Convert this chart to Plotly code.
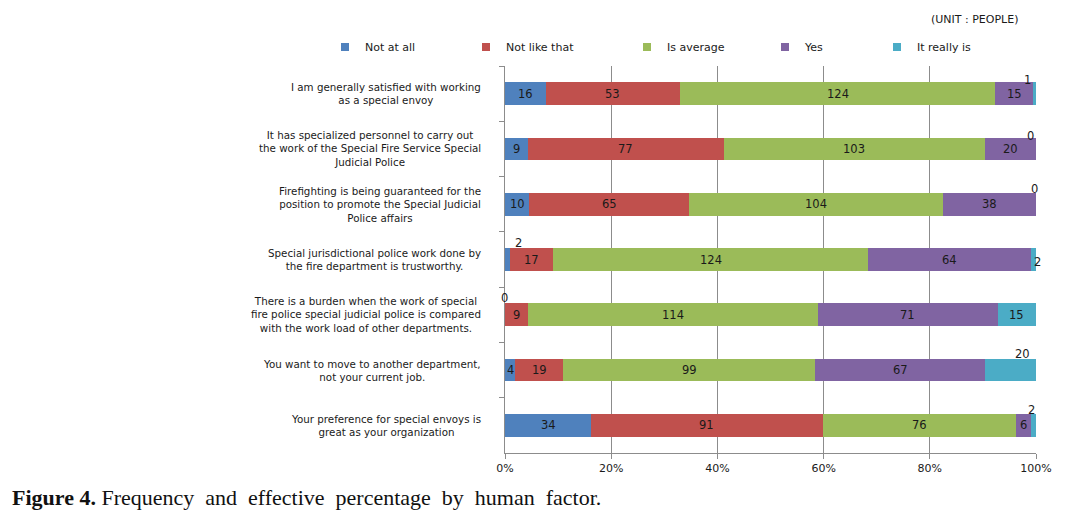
import plotly.graph_objects as go

categories = [
    "I am generally satisfied with working<br>as a special envoy",
    "It has specialized personnel to carry out<br>the work of the Special Fire Service Special<br>Judicial Police",
    "Firefighting is being guaranteed for the<br>position to promote the Special Judicial<br>Police affairs",
    "Special jurisdictional police work done by<br>the fire department is trustworthy.",
    "There is a burden when the work of special<br>fire police special judicial police is compared<br>with the work load of other departments.",
    "You want to move to another department,<br>not your current job.",
    "Your preference for special envoys is<br>great as your organization",
]
series_names = ["Not at all", "Not like that", "Is average", "Yes", "It really is"]
not_at_all = [16, 9, 10, 2, 0, 4, 34]
not_like_that = [53, 77, 65, 17, 9, 19, 91]
is_average = [124, 103, 104, 124, 114, 99, 76]
yes = [15, 20, 38, 64, 71, 67, 6]
really_is = [1, 0, 0, 2, 15, 20, 2]
x_ticks = [0, 20, 40, 60, 80, 100]

colors = ["#4F81BD", "#C0504D", "#9BBB59", "#8064A2", "#4BACC6"]
series = [not_at_all, not_like_that, is_average, yes, really_is]
totals = [sum(s[i] for s in series) for i in range(len(categories))]
keys = [f"c{i}" for i in range(len(categories))]

# layout geometry (pixels)
L, R, T, B = 497, 42, 58, 80
PW = 1070 - L - R
PH = 525 - T - B

# label offsets (xshift, yshift) for small segments, keyed by (row, series)
label_offsets = {
    (0, 4): (-7, 14), (1, 4): (-6, 13), (2, 4): (-2, 15),
    (3, 0): (11, 17), (3, 4): (4, -2), (4, 0): (-1, 17),
    (5, 4): (12, 16), (6, 4): (-2, 15),
}
# legend text start positions (page px)
legend_text_x = [363, 504, 665, 803, 915]

fig = go.Figure()
annotations = []
cum = [0.0] * len(categories)
for j, (name, vals, col) in enumerate(zip(series_names, series, colors)):
    pct = [v / t * 100 for v, t in zip(vals, totals)]
    fig.add_trace(go.Bar(
        name=name, y=keys, x=pct, orientation="h",
        marker=dict(color=col, line=dict(width=0)),
        textposition="none", hoverinfo="skip", showlegend=False,
    ))
    lg = "legend" if j == 0 else f"legend{j + 1}"
    fig.add_trace(go.Scatter(
        name=name, x=[None], y=[None], mode="markers",
        marker=dict(symbol="square", size=8, color=col),
        legend=lg, showlegend=True, hoverinfo="skip",
    ))
    for i, (v, p) in enumerate(zip(vals, pct)):
        xs, ys = label_offsets.get((i, j), (0, 0))
        annotations.append(dict(
            x=cum[i] + p / 2, y=keys[i], xref="x", yref="y",
            text=str(v), showarrow=False, xshift=xs, yshift=ys,
            font=dict(family="DejaVu Sans", size=11.5, color="#1a1a1a"),
        ))
        cum[i] += p

for i, c in enumerate(categories):
    annotations.append(dict(
        x=0, y=keys[i], xref="paper", yref="y", xanchor="right",
        xshift=-22, text=c, showarrow=False, align="center",
        font=dict(family="DejaVu Sans", size=10.3, color="#1a1a1a"),
    ))

annotations.append(dict(
    x=1, y=1 + (66 - 19) / PH, xref="paper", yref="paper", xanchor="right",
    yanchor="middle", xshift=-16,
    text="(UNIT : PEOPLE)", showarrow=False,
    font=dict(family="DejaVu Sans", size=11, color="#1a1a1a"),
))
annotations.append(dict(
    x=0, y=0, xref="paper", yref="paper", xanchor="left", yanchor="middle",
    xshift=-495, yshift=-44,
    text="<b>Figure 4.</b> Frequency  and  effective  percentage  by  human  factor.",
    showarrow=False,
    font=dict(family="Liberation Serif", size=22, color="#111111"),
))

legend_font = dict(family="DejaVu Sans", size=11, color="#1a1a1a")
legend_y = 1 + (66 - 47) / PH
legends = {}
for j, tx in enumerate(legend_text_x):
    key = "legend" if j == 0 else f"legend{j + 1}"
    legends[key] = dict(
        orientation="h", x=(tx - 38 - 505) / PW, y=legend_y,
        xanchor="left", yanchor="middle", font=legend_font,
        bgcolor="rgba(0,0,0,0)", itemwidth=30,
    )

fig.update_layout(
    width=1070, height=525,
    margin=dict(l=L, r=R, t=T, b=B),
    paper_bgcolor="white", plot_bgcolor="white",
    barmode="stack", bargap=0.59,
    showlegend=True,
    annotations=annotations,
    xaxis=dict(range=[0, 100], tickvals=x_ticks, ticktext=[f"{t}%" for t in x_ticks],
               showgrid=True, gridcolor="#8c8c8c", gridwidth=1,
               showline=True, linecolor="#8c8c8c", ticks="outside", ticklen=5,
               tickcolor="#8c8c8c", zeroline=False, automargin=False,
               tickfont=dict(family="DejaVu Sans", size=11, color="#1a1a1a")),
    yaxis=dict(type="category", autorange="reversed", showticklabels=False,
               showline=True, linecolor="#8c8c8c", ticks="outside", ticklen=5,
               tickcolor="#8c8c8c", tickson="boundaries", showgrid=False,
               automargin=False),
    **legends,
)

fig.write_html("out.html")
